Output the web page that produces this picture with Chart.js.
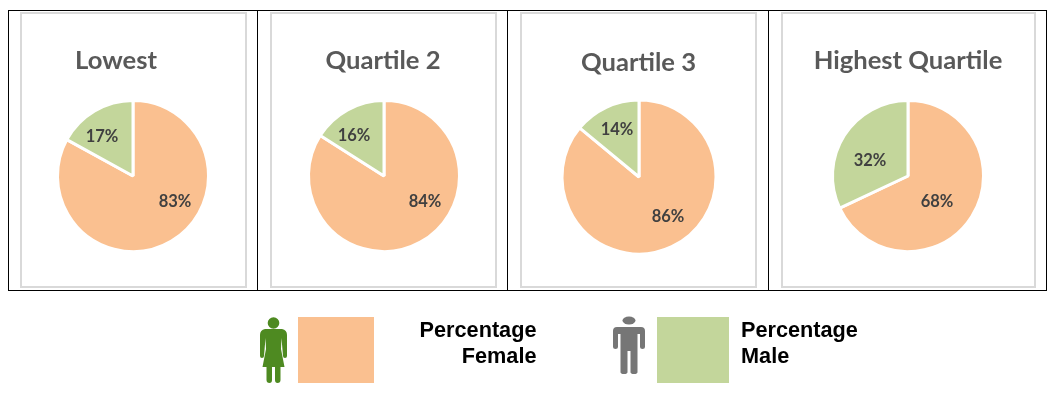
<!DOCTYPE html>
<html>
<head>
<meta charset="utf-8">
<title>Percentage female and male by quartile</title>
<script src="https://cdn.jsdelivr.net/npm/chart.js@4"></script>
<style>
  html, body { margin: 0; padding: 0; background: #fff; width: 1054px; height: 395px; overflow: hidden; }
  .box { position: absolute; box-sizing: border-box; }
  #outer { left: 8px; top: 10px; width: 1039px; height: 281px; border: 1px solid #000; }
  .divider { position: absolute; top: 10px; height: 281px; width: 1px; background: #000; }
  .panel { position: absolute; box-sizing: border-box; border: 2.5px solid #d9d9d9; }
  canvas { position: absolute; }
  .swatch { position: absolute; top: 317px; height: 66px; }
  .legendText { position: absolute; top: 317px; font: bold 21.7px/26px "Liberation Sans", Arial, sans-serif; color: #000; }
  #icons { position: absolute; left: 0; top: 0; }
</style>
</head>
<body>
<div class="box" id="outer"></div>
<div id="charts"></div>

<svg id="icons" width="1054" height="395">
  <!-- female -->
  <g fill="#4e8a21">
    <circle cx="273.5" cy="323" r="5.8"/>
    <path d="M265 329 H282 Q287 330 287 335 V356 Q287 358 285 358 Q283 358 283 356 L281.5 338 L281 349 L284.5 367 H280.5 V380 Q280.5 383 277.5 383 Q275 383 275 380 V367 H272 V380 Q272 383 269.5 383 Q266.5 383 266.5 380 V367 H262.5 L266 349 L265.5 338 L264 356 Q264 358 262 358 Q260 358 260 356 V335 Q260 330 265 329 Z"/>
  </g>
  <!-- male -->
  <g fill="#767676">
    <ellipse cx="629" cy="320.5" rx="6.5" ry="4"/>
    <path d="M617 327 H641 Q645 327 645 331 V347 Q645 349 642.5 349 Q640 349 640 347 V334 H637.5 V372 Q637.5 374 634 374 Q630.5 374 630.5 372 V351 H627.5 V372 Q627.5 374 624 374 Q620.5 374 620.5 372 V334 H618 V347 Q618 349 615.5 349 Q613 349 613 347 V331 Q613 327 617 327 Z"/>
  </g>
</svg>

<div class="swatch" style="left:298px;width:76px;background:#fac090"></div>
<div class="swatch" style="left:657px;width:72px;background:#c3d69b"></div>
<div class="legendText" style="left:400px;width:136.5px;text-align:right">Percentage<br>Female</div>
<div class="legendText" style="left:741px">Percentage<br>Male</div>

<script>
const categories = ["Percentage Female", "Percentage Male"];
const quartiles = ["Lowest", "Quartile 2", "Quartile 3", "Highest Quartile"];
const femaleValues = [83, 84, 86, 68];
const maleValues = [17, 16, 14, 32];

const sliceColors = ["#fac090", "#c3d69b"];

// layout
const panelLeft = [20, 270, 520, 781];
const panelRight = [247, 497, 757, 1036];
const dividers = [257, 507, 768];
const panelTop = 12;
const panelBottom = 288;
const pieX = [133, 384, 639, 908];
const pieY = [176, 176, 177, 176];
const pieRadius = [74, 74, 75.5, 74];
const titleX = [116, 383, 638.5, 908];
const titleBaseline = [69, 69, 71, 69];
// label offset from the pie centre: [female, male]
const labelDx = [[42, -31], [41, -30], [29, -22], [29, -38]];
const labelDy = [[26, -39], [26, -40], [40, -47], [26, -15]];

const chartsEl = document.getElementById("charts");

dividers.forEach(x => {
  const d = document.createElement("div");
  d.className = "divider";
  d.style.left = x + "px";
  document.body.appendChild(d);
});

// draws the title and the percentage labels, Excel puts them off centre
const pieText = {
  id: "pieText",
  afterDatasetsDraw(chart, args, opts) {
    const ctx = chart.ctx;
    const arcs = chart.getDatasetMeta(0).data;
    const box = chart.canvas.getBoundingClientRect();
    ctx.save();
    ctx.textAlign = "center";
    ctx.fillStyle = "#595959";
    ctx.font = 'bold 25.6px Lato, "Open Sans", sans-serif';
    ctx.textBaseline = "alphabetic";
    ctx.fillText(opts.title, titleX[opts.i] - box.left, titleBaseline[opts.i] - box.top);

    ctx.fillStyle = "#404040";
    ctx.font = 'bold 16.5px Lato, "Open Sans", sans-serif';
    ctx.textBaseline = "middle";
    arcs.forEach((arc, k) => {
      const value = chart.data.datasets[0].data[k];
      ctx.fillText(value + "%", arc.x + labelDx[opts.i][k], arc.y + labelDy[opts.i][k]);
    });
    ctx.restore();
  }
};

quartiles.forEach((name, i) => {
  const panel = document.createElement("div");
  panel.className = "panel";
  const w = panelRight[i] - panelLeft[i];
  const h = panelBottom - panelTop;
  panel.style.cssText = `left:${panelLeft[i]}px;top:${panelTop}px;width:${w}px;height:${h}px`;
  chartsEl.appendChild(panel);

  const canvas = document.createElement("canvas");
  canvas.width = w;
  canvas.height = h;
  canvas.style.cssText = `left:${panelLeft[i]}px;top:${panelTop}px;width:${w}px;height:${h}px`;
  chartsEl.appendChild(canvas);

  // shift the chart area so the pie centre lands where it should
  const dx = 2 * (pieX[i] - panelLeft[i]) - w;
  const dy = 2 * (pieY[i] - panelTop) - h;

  new Chart(canvas.getContext("2d"), {
    type: "pie",
    data: {
      labels: categories,
      datasets: [{
        data: [femaleValues[i], maleValues[i]],
        backgroundColor: sliceColors,
        borderColor: "#ffffff",
        borderWidth: 3
      }]
    },
    options: {
      responsive: false,
      animation: false,
      radius: pieRadius[i] + 1.5,
      layout: {
        padding: {
          left: Math.max(dx, 0),
          right: Math.max(-dx, 0),
          top: Math.max(dy, 0),
          bottom: Math.max(-dy, 0)
        }
      },
      plugins: {
        legend: { display: false },
        tooltip: { enabled: false },
        pieText: { title: name, i: i }
      }
    },
    plugins: [pieText]
  });
});
</script>
</body>
</html>
